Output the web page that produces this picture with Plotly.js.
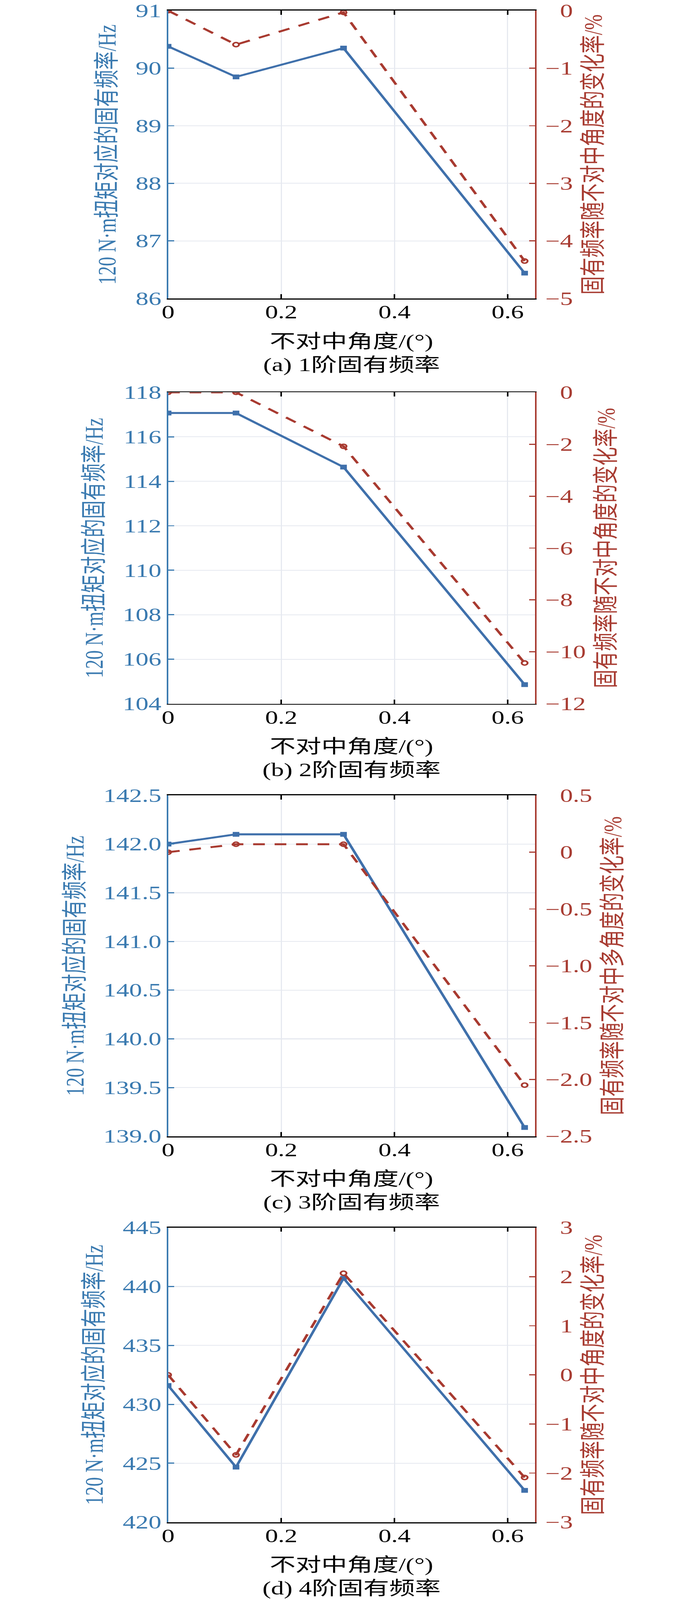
<!DOCTYPE html>
<html>
<head>
<meta charset="utf-8">
<script src="https://cdn.plot.ly/plotly-3.0.1.min.js"></script>
<style>
html,body{margin:0;padding:0;background:#fff;overflow:hidden;}
#wrap{width:1772px;height:5693px;overflow:hidden;position:relative;}
#chart{width:1772px;height:5693px;transform-origin:0 0;}
</style>
</head>
<body>
<div id="wrap"><div id="chart"></div></div>
<script>
// ---------------- data ----------------
const angle = [0, 0.12, 0.31, 0.63];

const freq1 = [90.38, 89.85, 90.35, 86.44];
const rate1 = [0, -0.59, -0.03, -4.35];
const freq2 = [117.07, 117.07, 114.64, 104.86];
const rate2 = [0, 0, -2.08, -10.43];
const freq3 = [142.00, 142.10, 142.10, 139.09];
const rate3 = [0, 0.07, 0.07, -2.05];
const freq4 = [431.6, 424.67, 440.7, 422.7];
const rate4 = [0, -1.63, 2.07, -2.09];

const xTickVals = [0, 0.2, 0.4, 0.6];
const xTickText = ['0', '0.2', '0.4', '0.6'];

const leftTickVals1 = [86, 87, 88, 89, 90, 91];
const leftTickText1 = ['86', '87', '88', '89', '90', '91'];
const rightTickVals1 = [-5, -4, -3, -2, -1, 0];
const rightTickText1 = ['\u22125', '\u22124', '\u22123', '\u22122', '\u22121', '0'];

const leftTickVals2 = [104, 106, 108, 110, 112, 114, 116, 118];
const leftTickText2 = ['104', '106', '108', '110', '112', '114', '116', '118'];
const rightTickVals2 = [-12, -10, -8, -6, -4, -2, 0];
const rightTickText2 = ['\u221212', '\u221210', '\u22128', '\u22126', '\u22124', '\u22122', '0'];

const leftTickVals3 = [139.0, 139.5, 140.0, 140.5, 141.0, 141.5, 142.0, 142.5];
const leftTickText3 = ['139.0', '139.5', '140.0', '140.5', '141.0', '141.5', '142.0', '142.5'];
const rightTickVals3 = [-2.5, -2.0, -1.5, -1.0, -0.5, 0, 0.5];
const rightTickText3 = ['\u22122.5', '\u22122.0', '\u22121.5', '\u22121.0', '\u22120.5', '0', '0.5'];

const leftTickVals4 = [420, 425, 430, 435, 440, 445];
const leftTickText4 = ['420', '425', '430', '435', '440', '445'];
const rightTickVals4 = [-3, -2, -1, 0, 1, 2, 3];
const rightTickText4 = ['\u22123', '\u22122', '\u22121', '0', '1', '2', '3'];

const xTitle = '不对中角度/(°)';
const leftTitle = '120 N·m扭矩对应的固有频率/Hz';
const rightTitles = [
  '固有频率随不对中角度的变化率/%',
  '固有频率随不对中角度的变化率/%',
  '固有频率随不对中多角度的变化率/%',
  '固有频率随不对中角度的变化率/%'
];
const captions = ['(a) 1阶固有频率', '(b) 2阶固有频率', '(c) 3阶固有频率', '(d) 4阶固有频率'];

const freqs = [freq1, freq2, freq3, freq4];
const rates = [rate1, rate2, rate3, rate4];
const leftRanges = [[86, 91], [104, 118], [139, 142.5], [420, 445]];
const rightRanges = [[-5, 0], [-12, 0], [-2.5, 0.5], [-3, 3]];
const leftTicks = [[leftTickVals1, leftTickText1], [leftTickVals2, leftTickText2], [leftTickVals3, leftTickText3], [leftTickVals4, leftTickText4]];
const rightTicks = [[rightTickVals1, rightTickText1], [rightTickVals2, rightTickText2], [rightTickVals3, rightTickText3], [rightTickVals4, rightTickText4]];

// ---------------- style / layout ----------------
const W = 1772, H = 5693;
const BLUE = '#3f70ab', BLUE_T = '#3a7ab0', RED = '#a83a30', RED_T = '#a83c32';
const GRID = '#e6e9f0';
const FONT = "'Liberation Serif', 'Noto Sans CJK SC', serif";
const FS = 66;
const plotLeft = 430.5, plotRight = 1369.5;
const panelPx = [[38, 1062], [1396, 2504], [2830, 4043], [4368, 5416]];

// fit the full figure into the visible window if the window is shorter than the figure
const viewH = window.innerHeight || H;
const sy = viewH < H ? viewH / H : 1;
document.getElementById('wrap').style.height = Math.round(H * sy) + 'px';
if (sy < 1) document.getElementById('chart').style.transform = 'scale(1,' + sy + ')';

function padRight(txt) {
  return txt.map(t => t.startsWith('\u2212') ? t : '<span style="color:rgba(255,255,255,0)">\u2212</span>' + t);
}

const data = [];
const layout = {
  width: W, height: H,
  margin: {l: 0, r: 0, t: 0, b: 0},
  paper_bgcolor: '#fff', plot_bgcolor: '#fff',
  showlegend: false,
  font: {family: FONT, size: FS, color: '#000'},
  annotations: []
};

for (let i = 0; i < 4; i++) {
  const n = i + 1;
  const xa = 'x' + (n === 1 ? '' : n);
  const yl = 'y' + (2 * i + 1 === 1 ? '' : (2 * i + 1));
  const yr = 'y' + (2 * i + 2);
  const xKey = 'xaxis' + (n === 1 ? '' : n);
  const ylKey = 'yaxis' + (2 * i + 1 === 1 ? '' : (2 * i + 1));
  const yrKey = 'yaxis' + (2 * i + 2);
  const top = panelPx[i][0], bot = panelPx[i][1];
  const dom = [1 - bot / H, 1 - top / H];

  data.push({
    x: angle, y: freqs[i], xaxis: xa, yaxis: yl, type: 'scatter', mode: 'lines+markers',
    line: {color: BLUE, width: 7},
    marker: {symbol: 'square', size: 17, color: BLUE}
  });
  data.push({
    x: angle, y: rates[i], xaxis: xa, yaxis: yr, type: 'scatter', mode: 'lines+markers',
    line: {color: RED, width: 7, dash: '30px,25px'},
    marker: {symbol: 'circle-open', size: 15, color: RED, line: {width: 5, color: RED}}
  });

  layout[xKey] = {
    domain: [plotLeft / W, plotRight / W], anchor: yl,
    range: [0, 0.648], tickvals: xTickVals, ticktext: xTickText,
    showline: true, linecolor: '#000', linewidth: 4, mirror: 'ticks',
    ticks: 'inside', ticklen: 15, tickwidth: 4, tickcolor: '#000',
    ticklabelstandoff: -12,
    showgrid: true, gridcolor: GRID, gridwidth: 3, zeroline: false,
    tickfont: {family: FONT, size: FS, color: '#000'},
    title: {text: xTitle, font: {family: FONT, size: FS, color: '#000'}, standoff: 45},
    automargin: false
  };
  layout[ylKey] = {
    domain: dom, anchor: xa, side: 'left',
    range: leftRanges[i], tickvals: leftTicks[i][0], ticktext: leftTicks[i][1],
    showline: true, linecolor: BLUE_T, linewidth: 4,
    ticks: 'inside', ticklen: 15, tickwidth: 4, tickcolor: BLUE_T,
    showgrid: true, gridcolor: GRID, gridwidth: 3, zeroline: false,
    tickfont: {family: FONT, size: FS, color: BLUE_T},
    title: {text: leftTitle, font: {family: FONT, size: FS, color: BLUE_T}, standoff: 30},
    automargin: false
  };
  layout[yrKey] = {
    domain: dom, anchor: xa, overlaying: yl, side: 'right',
    range: rightRanges[i], tickvals: rightTicks[i][0], ticktext: padRight(rightTicks[i][1]),
    showline: true, linecolor: RED_T, linewidth: 4,
    ticks: 'inside', ticklen: 15, tickwidth: 4, tickcolor: RED_T,
    ticklabelstandoff: 10,
    showgrid: false, zeroline: false,
    tickfont: {family: FONT, size: FS, color: RED_T},
    title: {text: rightTitles[i], font: {family: FONT, size: FS, color: RED_T}, standoff: 30},
    automargin: false
  };
  layout.annotations.push({
    text: captions[i], xref: 'paper', yref: 'paper',
    x: (plotLeft + plotRight) / 2 / W, y: 1 - (bot + 236) / H,
    xanchor: 'center', yanchor: 'middle', showarrow: false,
    font: {family: FONT, size: FS, color: '#000'}
  });
}

Plotly.newPlot('chart', data, layout, {staticPlot: true, displayModeBar: false});
</script>
</body>
</html>
